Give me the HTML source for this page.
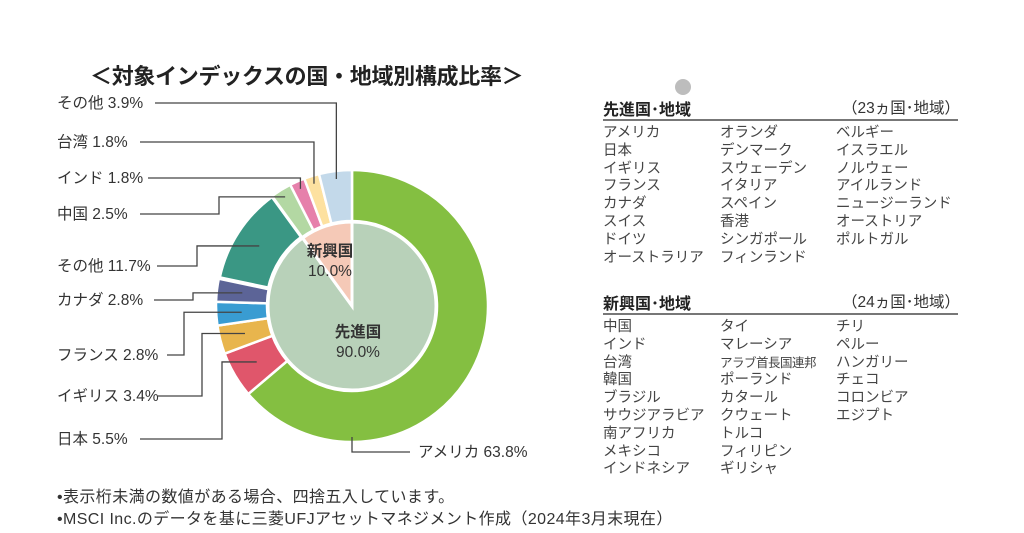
<!DOCTYPE html>
<html><head><meta charset="utf-8">
<style>
body{margin:0;background:#fff;width:1024px;height:533px;overflow:hidden;font-family:"Liberation Sans","Noto Sans CJK JP",sans-serif;color:#333}
.abs{position:absolute;white-space:nowrap}
.title{left:90px;top:59px;font-size:22px;font-weight:bold;color:#222;letter-spacing:-0.3px}
.hdr{font-size:16px;font-weight:bold;color:#222}
.cnt{font-size:15.5px;color:#333}
.rule{position:absolute;height:2px;background:#777;left:603px;width:355px}
.item{font-size:14.5px;color:#444;line-height:17.8px}
.note{font-size:16px;color:#333;left:57px;letter-spacing:0.4px}
</style></head><body>
<div class="abs title">＜対象インデックスの国・地域別構成比率＞</div>
<div class="abs" style="left:675px;top:79px;width:16px;height:16px;border-radius:50%;background:#bdbdbd"></div>

<svg id="pie" width="1024" height="533" style="position:absolute;left:0;top:0"></svg>

<div class="abs hdr" style="left:603px;top:96px">先進国･地域</div>
<div class="abs cnt" style="right:64px;top:96px">（23ヵ国･地域）</div>
<div class="rule" style="top:119px"></div>
<div class="abs item" style="left:603px;top:125px">アメリカ<br>日本<br>イギリス<br>フランス<br>カナダ<br>スイス<br>ドイツ<br>オーストラリア</div>
<div class="abs item" style="left:720px;top:125px">オランダ<br>デンマーク<br>スウェーデン<br>イタリア<br>スペイン<br>香港<br>シンガポール<br>フィンランド</div>
<div class="abs item" style="left:836px;top:125px">ベルギー<br>イスラエル<br>ノルウェー<br>アイルランド<br>ニュージーランド<br>オーストリア<br>ポルトガル</div>

<div class="abs hdr" style="left:603px;top:290px">新興国･地域</div>
<div class="abs cnt" style="right:64px;top:290px">（24ヵ国･地域）</div>
<div class="rule" style="top:313px"></div>
<div class="abs item" style="left:603px;top:319px">中国<br>インド<br>台湾<br>韓国<br>ブラジル<br>サウジアラビア<br>南アフリカ<br>メキシコ<br>インドネシア</div>
<div class="abs item" style="left:720px;top:319px">タイ<br>マレーシア<br><span style="font-size:12.5px;letter-spacing:-0.5px">アラブ首長国連邦</span><br>ポーランド<br>カタール<br>クウェート<br>トルコ<br>フィリピン<br>ギリシャ</div>
<div class="abs item" style="left:836px;top:319px">チリ<br>ペルー<br>ハンガリー<br>チェコ<br>コロンビア<br>エジプト</div>

<div class="abs note" style="top:483px">•表示桁未満の数値がある場合、四捨五入しています。</div>
<div class="abs note" style="top:505px">•MSCI Inc.のデータを基に三菱UFJアセットマネジメント作成（2024年3月末現在）</div>

<script>
const innerLabels=["先進国","新興国"];
const innerValues=[90.0,10.0];
const outerLabels=["アメリカ","日本","イギリス","フランス","カナダ","その他","中国","インド","台湾","その他"];
const outerValues=[63.8,5.5,3.4,2.8,2.8,11.7,2.5,1.8,1.8,3.9];
const outerColors=["#84bf41","#e0566b","#e8b54d","#399cd2","#5c6497","#3a9784","#b3d8a3","#e680ab","#fde1a0","#c3d9ea"];
const innerColors=["#b8d1b9","#f5c9b7"];

const svg=document.getElementById('pie');
const NS='http://www.w3.org/2000/svg';
const cx=352,cy=306,R1=136,R0=85,RI=84;
const total=outerValues.reduce((a,b)=>a+b,0);
function ang(v){return v/total*2*Math.PI;}
function pt(a,r){return [cx+r*Math.sin(a),cy-r*Math.cos(a)];}
function arc(a0,a1,ri,ro){
  const [x0,y0]=pt(a0,ro),[x1,y1]=pt(a1,ro),[x2,y2]=pt(a1,ri),[x3,y3]=pt(a0,ri);
  const l=(a1-a0)>Math.PI?1:0;
  if(ri<=0) return `M${cx},${cy}L${x0},${y0}A${ro},${ro} 0 ${l} 1 ${x1},${y1}Z`;
  return `M${x0},${y0}A${ro},${ro} 0 ${l} 1 ${x1},${y1}L${x2},${y2}A${ri},${ri} 0 ${l} 0 ${x3},${y3}Z`;
}
function mk(tag,attrs){const e=document.createElementNS(NS,tag);for(const k in attrs)e.setAttribute(k,attrs[k]);svg.appendChild(e);return e;}

let acc=0;const mids=[];
outerValues.forEach((v,i)=>{
  const a0=ang(acc),a1=ang(acc+v);acc+=v;
  mids.push((a0+a1)/2);
  const p=mk('path',{d:arc(a0,a1,R0,R1),fill:outerColors[i],stroke:'#fff','stroke-width':i==5?4:2.5});
  
  
});
let acc2=0;
innerValues.forEach((v,i)=>{
  const a0=ang(acc2),a1=ang(acc2+v);acc2+=v;
  const p=mk('path',{d:arc(a0,a1,0,RI),fill:innerColors[i],stroke:'#fff','stroke-width':3});
  
  
});
function txt(x,y,s,size,weight,anchor){const t=mk('text',{x:x,y:y,'font-size':size,'font-weight':weight||'normal','text-anchor':anchor||'start',fill:'#333','font-family':'"Liberation Sans","Noto Sans CJK JP",sans-serif'});t.textContent=s;return t;}
let t;
t=txt(358,337,innerLabels[0],15.5,'bold','middle');
t=txt(358,357,innerValues[0].toFixed(1)+'%',15.5,'normal','middle');
t=txt(330,256,innerLabels[1],15.5,'bold','middle');
t=txt(330,276,innerValues[1].toFixed(1)+'%',15.5,'normal','middle');

const labY=[null,439,396,355,300,266,214,178,142,103];
const lineStart=[null,140,158,167,154,157,140,148,140,155];
const elbowX=[null,222,202,184,193,197,219,null,null,null];
const R=(R0+R1)/2;
const lc='#444';
for(let i=1;i<outerValues.length;i++){
  const [ex,ey]=pt(mids[i],i>=6?R1-8:R);
  let d;
  if(elbowX[i]!==null){
    d=`M${lineStart[i]},${labY[i]}H${elbowX[i]}V${ey}H${ex}`;
  } else {
    d=`M${lineStart[i]},${labY[i]}H${ex}V${ey}`;
  }
  const p=mk('path',{d:d,fill:'none',stroke:lc,'stroke-width':1.3});
  
  
  const tx=txt(57,labY[i]+5,outerLabels[i]+' '+outerValues[i].toFixed(1)+'%',15.5,'normal','start');
  
  
}
const [ax,ay]=pt(Math.PI,R1-5);
const pa=mk('path',{d:`M${ax},${ay}V452H410`,fill:'none',stroke:lc,'stroke-width':1.3});


t=txt(418,457,outerLabels[0]+' '+outerValues[0].toFixed(1)+'%',15.5,'normal','start');


</script>
</body></html>
